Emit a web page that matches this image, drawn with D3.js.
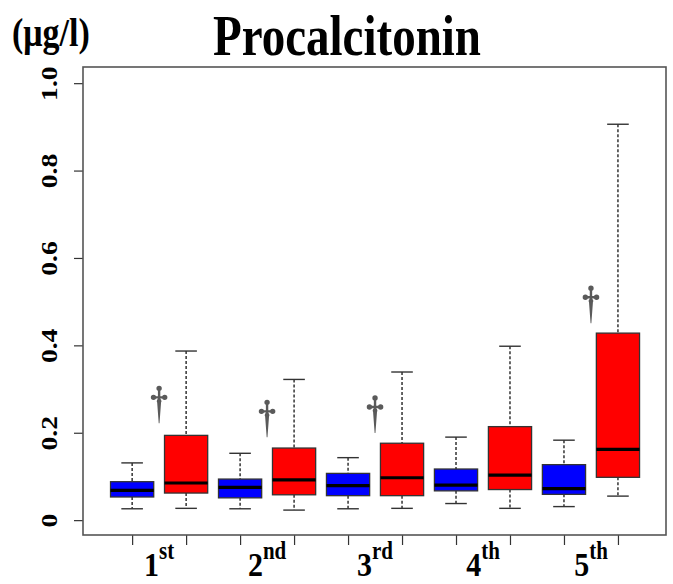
<!DOCTYPE html>
<html>
<head>
<meta charset="utf-8">
<script src="https://cdn.jsdelivr.net/npm/d3@7"></script>
<style>
  body { margin: 0; background: #fff; }
  text { font-family: "Liberation Serif", "Times New Roman", serif; font-weight: bold; }
</style>
</head>
<body>
<div id="chart"></div>
<script>
// Groups along the x axis (each group has a blue and a red box)
var groups = ["1st", "2nd", "3rd", "4th", "5th"];
var groupSup = ["st", "nd", "rd", "th", "th"];
var yTicks = [0, 0.2, 0.4, 0.6, 0.8, 1.0];

// Blue boxes
var blueLo  = [0.026, 0.026, 0.026, 0.038, 0.031];
var blueQ1  = [0.053, 0.051, 0.056, 0.067, 0.059];
var blueMed = [0.068, 0.075, 0.079, 0.080, 0.072];
var blueQ3  = [0.088, 0.094, 0.107, 0.117, 0.127];
var blueHi  = [0.131, 0.153, 0.143, 0.190, 0.183];

// Red boxes
var redLo  = [0.027, 0.023, 0.027, 0.027, 0.055];
var redQ1  = [0.062, 0.058, 0.056, 0.070, 0.098];
var redMed = [0.085, 0.092, 0.097, 0.103, 0.162];
var redQ3  = [0.194, 0.165, 0.176, 0.214, 0.428];
var redHi  = [0.387, 0.322, 0.339, 0.398, 0.906];

// Dagger marks (group index, value)
var daggerGroup = [0, 1, 2, 4];
var daggerValue = [0.281, 0.249, 0.259, 0.510];

// Dimensions
var margin = { top: 67, right: 7, bottom: 49, left: 83 };
var w = 673, h = 584;
var width = w - margin.left - margin.right;
var height = h - margin.top - margin.bottom;

var svg = d3.select("#chart").append("svg")
    .attr("width", w)
    .attr("height", h);

var g = svg.append("g")
    .attr("transform", "translate(" + margin.left + "," + margin.top + ")");

// Scales
var xScale = d3.scaleLinear().domain([0.09, 10.89]).range([0, width]);
var yScale = d3.scaleLinear().domain([-0.034, 1.037]).range([height, 0]);
var unit = xScale(2) - xScale(1);
var boxW = unit * 0.8;
var capW = unit * 0.4;

// Build box table from the arrays
var boxes = [];
groups.forEach(function(d, i) {
  boxes.push({ pos: 2 * i + 1, lo: blueLo[i], q1: blueQ1[i], med: blueMed[i], q3: blueQ3[i], hi: blueHi[i], fill: "#0000ff" });
  boxes.push({ pos: 2 * i + 2, lo: redLo[i], q1: redQ1[i], med: redMed[i], q3: redQ3[i], hi: redHi[i], fill: "#ff0000" });
});

// Y axis
var yAxis = d3.axisLeft(yScale).tickValues(yTicks).tickSize(9)
  .tickFormat(function(d) { return d === 0 ? "0" : d3.format(".1f")(d); });
var yG = g.append("g").call(yAxis);
yG.select(".domain").remove();
yG.selectAll("line").attr("stroke", "#333").attr("stroke-width", 1.2);
yG.selectAll("text")
  .attr("x", null).attr("dy", null)
  .attr("text-anchor", "middle")
  .attr("transform", "translate(-26,0) rotate(-90) scale(1.2,1)")
  .attr("font-size", 23)
  .attr("font-family", "Liberation Serif")
  .attr("fill", "#000");

// X axis (ticks only)
var xAxis = d3.axisBottom(xScale).tickValues(d3.range(1, 11)).tickSize(10).tickFormat("");
var xG = g.append("g").attr("transform", "translate(0," + height + ")").call(xAxis);
xG.select(".domain").remove();
xG.selectAll("line").attr("stroke", "#333").attr("stroke-width", 1.2);

// X labels with superscripts
groups.forEach(function(d, i) {
  var t = g.append("text")
    .attr("text-anchor", "middle")
    .attr("transform", "translate(" + xScale(2 * i + 1.5) + "," + (height + 41) + ") scale(1,1.15)")
    .attr("font-size", 30);
  t.append("tspan").text(d.replace(groupSup[i], ""));
  t.append("tspan").attr("font-size", 21).attr("dy", -15).text(groupSup[i]);
});

// Whiskers
var bx = g.selectAll(".box").data(boxes).enter().append("g").attr("class", "box");

bx.append("line")
  .attr("x1", function(d) { return xScale(d.pos); })
  .attr("x2", function(d) { return xScale(d.pos); })
  .attr("y1", function(d) { return yScale(d.hi); })
  .attr("y2", function(d) { return yScale(d.q3); })
  .attr("stroke", "#000").attr("stroke-width", 1.2).attr("stroke-dasharray", "3,2");
bx.append("line")
  .attr("x1", function(d) { return xScale(d.pos); })
  .attr("x2", function(d) { return xScale(d.pos); })
  .attr("y1", function(d) { return yScale(d.q1); })
  .attr("y2", function(d) { return yScale(d.lo); })
  .attr("stroke", "#000").attr("stroke-width", 1.2).attr("stroke-dasharray", "3,2");

// Caps
["hi", "lo"].forEach(function(k) {
  bx.append("line")
    .attr("x1", function(d) { return xScale(d.pos) - capW / 2; })
    .attr("x2", function(d) { return xScale(d.pos) + capW / 2; })
    .attr("y1", function(d) { return yScale(d[k]); })
    .attr("y2", function(d) { return yScale(d[k]); })
    .attr("stroke", "#333").attr("stroke-width", 1.4);
});

// Boxes
bx.append("rect")
  .attr("x", function(d) { return xScale(d.pos) - boxW / 2; })
  .attr("y", function(d) { return yScale(d.q3); })
  .attr("width", boxW)
  .attr("height", function(d) { return yScale(d.q1) - yScale(d.q3); })
  .attr("fill", function(d) { return d.fill; })
  .attr("stroke", "#333").attr("stroke-width", 1.3);

// Medians
bx.append("line")
  .attr("x1", function(d) { return xScale(d.pos) - boxW / 2; })
  .attr("x2", function(d) { return xScale(d.pos) + boxW / 2; })
  .attr("y1", function(d) { return yScale(d.med); })
  .attr("y2", function(d) { return yScale(d.med); })
  .attr("stroke", "#000").attr("stroke-width", 3.2);

// Dagger symbol (all pieces wound the same way so they fill solid)
function circ(cx, cy, r) {
  return "M" + (cx + r) + "," + cy + "A" + r + "," + r + " 0 1 1 " + (cx - r) + "," + cy +
         "A" + r + "," + r + " 0 1 1 " + (cx + r) + "," + cy + "Z";
}
var daggerPath = circ(0, -9, 2.7) + circ(-5.6, 0, 2.7) + circ(5.6, 0, 2.7) + circ(0, 3.8, 2.4) +
  "M-1.2,-9L1.2,-9L1.2,3L-1.2,3Z" +
  "M-5.6,-1.2L5.6,-1.2L5.6,1.2L-5.6,1.2Z" +
  "M-2,4.5L2,4.5L0.4,26L-0.4,26Z";

g.selectAll(".dagger").data(daggerGroup).enter().append("path")
  .attr("class", "dagger")
  .attr("d", daggerPath)
  .attr("fill-rule", "nonzero")
  .attr("transform", function(d, i) { return "translate(" + xScale(2 * d + 1.5) + "," + yScale(daggerValue[i]) + ")"; })
  .attr("fill", "#5a5a5a");

// Plot frame
g.append("rect")
  .attr("x", 0).attr("y", 0)
  .attr("width", width).attr("height", height)
  .attr("fill", "none").attr("stroke", "#555").attr("stroke-width", 1.6);

// Title and units
svg.append("text")
  .attr("text-anchor", "middle")
  .attr("transform", "translate(347,55) scale(1,1.2)")
  .attr("font-size", 47)
  .text("Procalcitonin");

svg.append("text")
  .attr("transform", "translate(12,46) scale(1,1.15)")
  .attr("font-size", 34)
  .text("(μg/l)");
</script>
</body>
</html>
